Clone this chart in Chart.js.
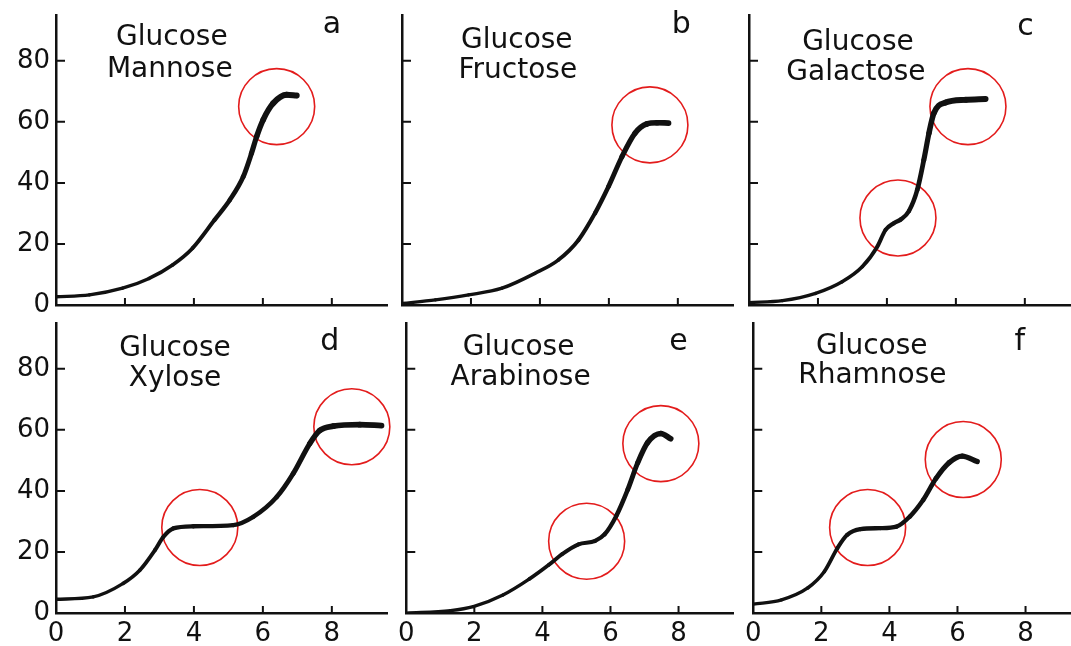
<!DOCTYPE html>
<html>
<head>
<meta charset="utf-8">
<script src="https://cdn.jsdelivr.net/npm/chart.js@4"></script>
<style>
  html, body { margin: 0; padding: 0; background: #fff; }
  body { width: 1071px; height: 646px; position: relative; overflow: hidden; }
  canvas { position: absolute; }
</style>
</head>
<body>
<script>
// curves, one pair of arrays per panel
var xMannose = [0, 0.97, 1.93, 2.7, 3.38, 3.96, 4.6, 5.04, 5.43, 5.67, 5.82, 6.01, 6.3, 6.69, 6.98];
var yMannose = [2.7, 3.3, 5.5, 8.7, 13.1, 18.6, 27.9, 34.4, 42, 49.7, 55.2, 60.7, 66.1, 68.9, 68.6];

var xFructose = [0, 0.97, 1.93, 2.9, 3.86, 4.54, 5.12, 5.6, 5.99, 6.38, 6.76, 7.1, 7.4, 7.73];
var yFructose = [0.5, 1.7, 3.3, 5.5, 10.4, 14.8, 21.3, 30.1, 38.8, 48.6, 56.3, 59.3, 59.7, 59.6];

var xGalactose = [0, 0.97, 1.93, 2.7, 3.29, 3.72, 3.96, 4.2, 4.4, 4.64, 4.88, 5.07, 5.22, 5.36, 5.7, 6.28, 6.86];
var yGalactose = [0.8, 1.4, 3.8, 7.6, 12.6, 19.1, 24.6, 26.8, 28, 30.8, 37.7, 47.5, 56.3, 62.8, 66.3, 67.2, 67.5];

var xXylose = [0, 1.08, 1.95, 2.43, 2.87, 3.11, 3.4, 3.98, 5.14, 5.72, 6.4, 6.88, 7.36, 7.65, 8.04, 8.81, 9.44];
var yXylose = [4.5, 5.3, 9.7, 14, 20.6, 24.9, 27.7, 28.4, 28.8, 31.5, 38, 45.7, 55.5, 59.8, 61.2, 61.7, 61.4];

var xArabinose = [0, 1.3, 1.97, 2.84, 3.61, 4.19, 4.58, 5.06, 5.55, 5.83, 6.17, 6.51, 6.8, 7.09, 7.48, 7.77];
var yArabinose = [0, 0.8, 2.1, 5.9, 11.1, 15.8, 19.3, 22.5, 23.6, 25.8, 31.8, 40.5, 49.2, 55.8, 58.8, 57.1];

var xRhamnose = [0, 0.83, 1.6, 2.09, 2.47, 2.76, 3.15, 3.73, 4.21, 4.6, 4.99, 5.37, 5.76, 6.14, 6.58];
var yRhamnose = [2.9, 4.3, 8.2, 13.6, 21.2, 25.6, 27.5, 27.8, 28.3, 31.6, 37, 44.1, 49.3, 51.4, 49.6];

// ringed spots on each curve
var ringsX = [[6.4], [7.19], [6.35, 4.32], [4.17, 8.58], [5.3, 7.48], [3.36, 6.17]];
var ringsY = [[65], [59], [65, 28.5], [28, 61], [23.5, 55.5], [28, 50.3]];

var panelLetters = ['a', 'b', 'c', 'd', 'e', 'f'];
var sugarNames = ['Mannose', 'Fructose', 'Galactose', 'Xylose', 'Arabinose', 'Rhamnose'];
var xTicks = [0, 2, 4, 6, 8];
var yTicks = [0, 20, 40, 60, 80];

var curvesX = [xMannose, xFructose, xGalactose, xXylose, xArabinose, xRhamnose];
var curvesY = [yMannose, yFructose, yGalactose, yXylose, yArabinose, yRhamnose];

// where the captions sit, in axis units: [glucose x, y, name x, y, letter x, y]
var captionAt = [
    [3.36, 85.2, 3.3, 74.8, 8.0, 89.2],
    [3.33, 84.3, 3.36, 74.4, 8.1, 89.2],
    [3.16, 83.6, 3.1, 73.8, 8.02, 88.5],
    [3.45, 84.3, 3.45, 74.5, 7.94, 86],
    [3.3, 84.6, 3.36, 74.8, 8.0, 86.3],
    [3.48, 85, 3.5, 75.2, 7.83, 86]
];

var ink = '#111';
var FONT = 'DejaVu Sans';
var colLeft = [56, 402, 749];
var rowTop = [15, 323];
// plot box size; top pad is wide enough to swallow the y label half-heights
var AREA_W = 331, AREA_H = 290, PAD_TOP = 26, PAD_RIGHT = 12;

function pts(xs, ys) {
    return xs.map(function (v, i) { return {x: v, y: ys[i]}; });
}

// tick marks pointing into the plot, like the hand-drawn axes
var inwardTicks = {
    id: 'inwardTicks',
    afterDraw: function (chart) {
        var ctx = chart.ctx, a = chart.chartArea;
        var xs = chart.scales.x, ys = chart.scales.y;
        ctx.save();
        ctx.strokeStyle = ink;
        ctx.lineWidth = 2;
        ctx.beginPath();
        ys.ticks.forEach(function (t) {
            if (t.value === 0) return;
            var py = ys.getPixelForValue(t.value);
            ctx.moveTo(a.left, py); ctx.lineTo(a.left + 9, py);
        });
        xs.ticks.forEach(function (t) {
            if (t.value === 0) return;
            var px = xs.getPixelForValue(t.value);
            ctx.moveTo(px, a.bottom); ctx.lineTo(px, a.bottom - 7);
        });
        ctx.stroke();
        ctx.restore();
    }
};

function captionPlugin(i) {
    return {
        id: 'caption' + i,
        afterDraw: function (chart) {
            var ctx = chart.ctx, xs = chart.scales.x, ys = chart.scales.y, p = captionAt[i];
            ctx.save();
            ctx.fillStyle = ink;
            ctx.textAlign = 'center';
            ctx.textBaseline = 'alphabetic';
            ctx.font = '28px "' + FONT + '"';
            ctx.fillText('Glucose', xs.getPixelForValue(p[0]), ys.getPixelForValue(p[1]));
            ctx.fillText(sugarNames[i], xs.getPixelForValue(p[2]), ys.getPixelForValue(p[3]));
            ctx.font = '30px "' + FONT + '"';
            ctx.fillText(panelLetters[i], xs.getPixelForValue(p[4]), ys.getPixelForValue(p[5]));
            ctx.restore();
        }
    };
}

for (var i = 0; i < 6; i++) {
    var col = i % 3, row = Math.floor(i / 3);
    var yW = col === 0 ? 56 : 10;
    var xH = row === 1 ? 33 : 24;

    var cv = document.createElement('canvas');
    var w = yW + AREA_W + PAD_RIGHT, h = PAD_TOP + AREA_H + xH;
    cv.width = w; cv.height = h;
    cv.style.left = (colLeft[col] - yW) + 'px';
    cv.style.top = (rowTop[row] - PAD_TOP) + 'px';
    cv.style.width = w + 'px'; cv.style.height = h + 'px';
    document.body.appendChild(cv);

    new Chart(cv.getContext('2d'), {
        type: 'line',
        data: {
            datasets: [{
                data: pts(curvesX[i], curvesY[i]),
                borderColor: ink,
                borderCapStyle: 'round',
                borderJoinStyle: 'round',
                cubicInterpolationMode: 'monotone',
                pointRadius: 0,
                segment: {
                    // pen gets heavier towards the top of the curve
                    borderWidth: function (c) { return 3.2 + c.p0.parsed.y / 24; }
                }
            }, {
                type: 'scatter',
                data: pts(ringsX[i], ringsY[i]),
                pointRadius: 38,
                pointBorderWidth: 1.6,
                pointBorderColor: '#e31c1c',
                pointBackgroundColor: 'rgba(0,0,0,0)',
                showLine: false,
                clip: false
            }]
        },
        options: {
            responsive: false,
            animation: false,
            layout: { autoPadding: false, padding: { top: PAD_TOP, right: PAD_RIGHT, left: 0, bottom: 0 } },
            plugins: { legend: { display: false }, tooltip: { enabled: false } },
            scales: {
                x: {
                    type: 'linear', min: 0, max: 9.6,
                    afterBuildTicks: function (s) { s.ticks = xTicks.map(function (v) { return {value: v}; }); },
                    afterFit: (function (hh) { return function (s) { s.height = hh; }; })(xH),
                    ticks: { display: row === 1, padding: 6, color: ink, font: { family: FONT, size: 26 }, maxRotation: 0 },
                    grid: { display: false, drawTicks: false },
                    border: { display: true, color: ink, width: 2.5 }
                },
                y: {
                    type: 'linear', min: 0, max: 95,
                    afterBuildTicks: function (s) { s.ticks = yTicks.map(function (v) { return {value: v}; }); },
                    afterFit: (function (ww) { return function (s) { s.width = ww; }; })(yW),
                    ticks: { display: col === 0, padding: 6, color: ink, font: { family: FONT, size: 26 } },
                    grid: { display: false, drawTicks: false },
                    border: { display: true, color: ink, width: 2.5 }
                }
            }
        },
        plugins: [inwardTicks, captionPlugin(i)]
    });
}
</script>
</body>
</html>
